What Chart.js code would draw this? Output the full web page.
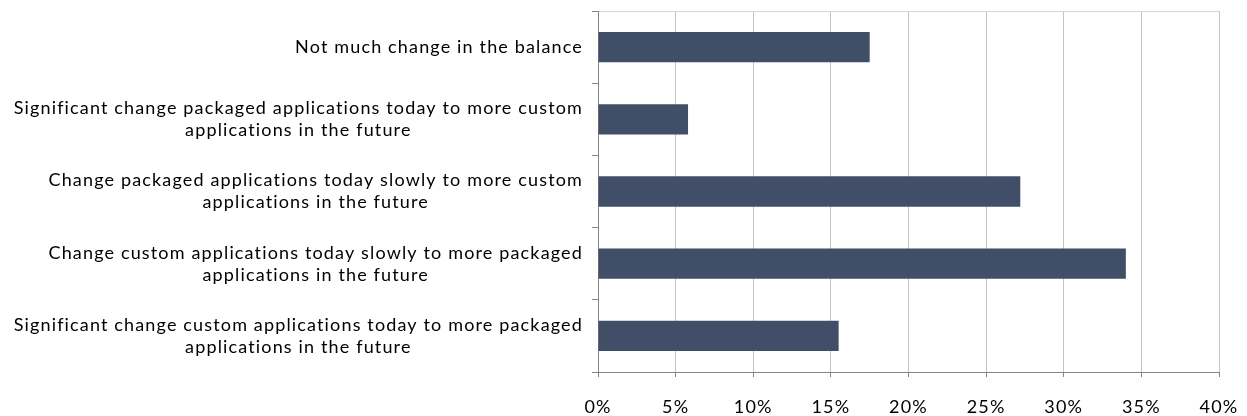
<!DOCTYPE html>
<html>
<head>
<meta charset="utf-8">
<script src="https://cdn.jsdelivr.net/npm/chart.js@4.4.1/dist/chart.umd.min.js"></script>
<style>
  html, body { margin: 0; padding: 0; background: #fff; }
  #wrap { width: 1247px; height: 416px; }
</style>
</head>
<body>
<div id="wrap"><canvas id="chart"></canvas></div>
<script>
// data
const categories = [
  ['Not much change in the balance'],
  ['Significant change packaged applications today to more custom', 'applications in the future'],
  ['Change packaged applications today slowly to more custom', 'applications in the future'],
  ['Change custom applications today slowly to more packaged', 'applications in the future'],
  ['Significant change custom applications today to more packaged', 'applications in the future']
];
const shares = [17.5, 5.8, 27.2, 34.0, 15.5];
const xTickValues = [0, 5, 10, 15, 20, 25, 30, 35, 40];

const fontFamily = 'Lato, "Open Sans", sans-serif';
const fontSize = 18;
const spacing = '1.15px';
const barColor = '#404E67';

// wider letter spacing, like the original renderer
const spacedText = {
  id: 'spacedText',
  beforeDraw(chart) {
    chart.ctx.letterSpacing = spacing;
  }
};

// y labels: each label block right-aligned, its lines centred inside the block
const categoryLabels = {
  id: 'categoryLabels',
  afterDraw(chart) {
    const yScale = chart.scales.y;
    const ctx = chart.ctx;
    const right = yScale.right - 15;
    const gap = 22;
    ctx.save();
    ctx.letterSpacing = spacing;
    ctx.font = fontSize + 'px ' + fontFamily;
    ctx.fillStyle = '#000';
    ctx.textAlign = 'center';
    ctx.textBaseline = 'middle';
    categories.forEach((lines, i) => {
      const cy = yScale.getPixelForTick(i);
      const widest = Math.max(...lines.map(l => ctx.measureText(l).width));
      const cx = right - widest / 2;
      lines.forEach((line, j) => {
        ctx.fillText(line, cx, cy + (j - (lines.length - 1) / 2) * gap);
      });
    });
    ctx.restore();
  }
};

new Chart(document.getElementById('chart'), {
  type: 'bar',
  data: {
    labels: categories,
    datasets: [{
      data: shares,
      backgroundColor: barColor,
      borderWidth: 0,
      barPercentage: 0.42,
      categoryPercentage: 1
    }]
  },
  options: {
    indexAxis: 'y',
    responsive: true,
    maintainAspectRatio: false,
    animation: false,
    layout: { padding: { top: 11, right: 28, left: 0, bottom: 0 } },
    plugins: {
      legend: { display: false },
      tooltip: { enabled: false }
    },
    scales: {
      x: {
        min: 0,
        max: 40,
        afterBuildTicks(scale) {
          scale.ticks = xTickValues.map(v => ({ value: v }));
        },
        afterFit(scale) {
          scale.height = 44;
          scale.paddingLeft = 0;
          scale.paddingRight = 0;
        },
        ticks: {
          callback: v => v + '%',
          color: '#000',
          padding: 19,
          maxRotation: 0,
          font: { family: fontFamily, size: fontSize }
        },
        grid: {
          color: '#C4C4C4',
          tickColor: '#868686',
          tickLength: 5,
          lineWidth: 1
        },
        border: { color: '#868686', width: 1 }
      },
      y: {
        afterFit(scale) { scale.width = 598; },
        ticks: { display: false },
        grid: {
          offset: true,
          drawOnChartArea: true,
          color: ctx => ctx.index === 0 ? '#D9D9D9' : 'rgba(0,0,0,0)',
          tickColor: '#868686',
          tickLength: 6
        },
        border: { color: '#868686', width: 1 }
      }
    }
  },
  plugins: [spacedText, categoryLabels]
});
</script>
</body>
</html>
